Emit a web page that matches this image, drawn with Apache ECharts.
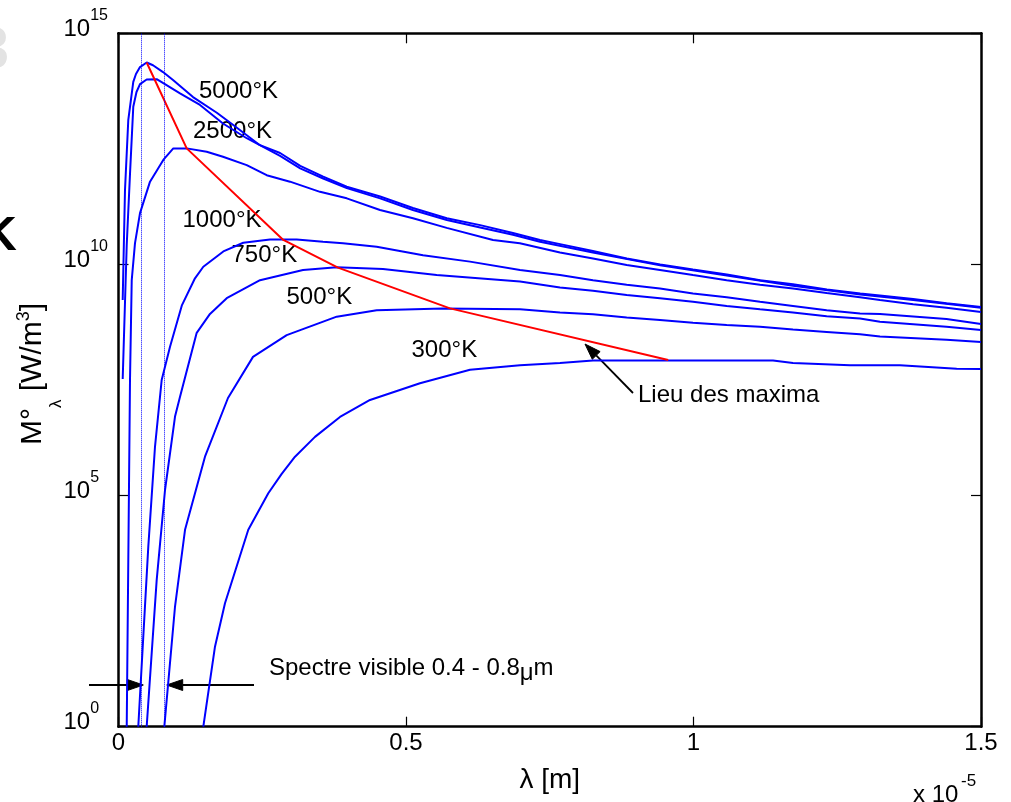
<!DOCTYPE html>
<html>
<head>
<meta charset="utf-8">
<script src="https://cdn.jsdelivr.net/npm/echarts@6/dist/echarts.min.js"></script>
<style>
  html, body { margin: 0; padding: 0; background: #fff; }
  #main { width: 1011px; height: 802px; }
</style>
</head>
<body>
<div id="main"></div>
<script>
// lambda in units of 1e-5 m, M in W/m^3
const lam6000 = [0.0073, 0.0113, 0.017, 0.0257, 0.0304, 0.0374, 0.049, 0.06, 0.0774, 0.0948, 0.1296, 0.171, 0.199, 0.246, 0.281, 0.316, 0.356, 0.397, 0.455, 0.512, 0.571, 0.629, 0.686, 0.733, 0.768, 0.825, 0.884, 0.942, 0.999, 1.058, 1.116, 1.173, 1.232, 1.29, 1.324, 1.382, 1.44, 1.5];
const m6000 = [1.70e9, 4.07e11, 1.32e13, 8.91e13, 1.32e14, 1.86e14, 2.34e14, 2.04e14, 1.45e14, 9.77e13, 4.17e13, 1.91e13, 1.05e13, 3.80e12, 2.57e12, 1.35e12, 7.94e11, 4.79e11, 2.95e11, 1.66e11, 1.00e11, 7.08e10, 4.79e10, 3.39e10, 2.75e10, 1.95e10, 1.35e10, 1.00e10, 7.76e9, 6.03e9, 4.57e9, 3.72e9, 2.88e9, 2.34e9, 2.14e9, 1.78e9, 1.45e9, 1.20e9];

const lam5000 = [0.0073, 0.0143, 0.02, 0.0257, 0.0313, 0.0374, 0.049, 0.0664, 0.0779, 0.107, 0.1417, 0.1817, 0.223, 0.281, 0.316, 0.356, 0.397, 0.455, 0.512, 0.571, 0.629, 0.686, 0.733, 0.825, 0.942, 1.058, 1.173, 1.29, 1.382, 1.5];
const m5000 = [3.31e7, 2.63e10, 9.12e11, 2.57e13, 5.37e13, 7.94e13, 1.00e14, 1.02e14, 8.32e13, 5.01e13, 2.82e13, 1.12e13, 5.37e12, 2.24e12, 1.20e12, 7.24e11, 4.47e11, 2.69e11, 1.51e11, 9.12e10, 6.31e10, 4.37e10, 3.09e10, 1.82e10, 9.55e9, 5.75e9, 3.47e9, 2.24e9, 1.70e9, 1.15e9];

const lam2500 = [0.0143, 0.02, 0.023, 0.0287, 0.0374, 0.0548, 0.0779, 0.0953, 0.1186, 0.1534, 0.1817, 0.223, 0.2577, 0.2983, 0.3504, 0.397, 0.4548, 0.5122, 0.5708, 0.6513, 0.698, 0.7678, 0.8252, 0.8838, 0.9417, 0.9991, 1.0577, 1.1157, 1.173, 1.2316, 1.2896, 1.3243, 1.382, 1.44, 1.5];
const m2500 = [1, 3.16e7, 4.57e9, 2.88e10, 1.29e11, 6.17e11, 1.82e12, 3.24e12, 3.24e12, 2.75e12, 2.14e12, 1.41e12, 8.51e11, 6.17e11, 3.72e11, 2.69e11, 1.51e11, 1.00e11, 6.17e10, 3.39e10, 2.88e10, 1.82e10, 1.35e10, 9.77e9, 7.59e9, 5.89e9, 4.57e9, 3.63e9, 3.02e9, 2.40e9, 1.95e9, 1.70e9, 1.38e9, 1.15e9, 9.33e8];

const lam1000 = [0.0344, 0.0518, 0.0635, 0.0751, 0.0896, 0.1104, 0.133, 0.1475, 0.1823, 0.217, 0.2635, 0.3099, 0.3557, 0.3904, 0.449, 0.5296, 0.6113, 0.6983, 0.7678, 0.8252, 0.8838, 0.9417, 0.9991, 1.0577, 1.1157, 1.173, 1.2316, 1.2896, 1.3243, 1.44, 1.5];
const m1000 = [1, 7.76e3, 1.15e6, 3.16e7, 1.66e8, 1.32e9, 5.01e9, 8.91e9, 1.91e10, 2.95e10, 3.47e10, 3.47e10, 3.09e10, 2.88e10, 2.40e10, 1.58e10, 1.15e10, 7.59e9, 5.89e9, 4.57e9, 3.63e9, 3.02e9, 2.34e9, 1.95e9, 1.55e9, 1.26e9, 1.02e9, 8.71e8, 8.51e8, 6.61e8, 5.13e8];

const lam750 = [0.049, 0.0664, 0.0809, 0.0983, 0.107, 0.136, 0.1591, 0.1882, 0.2461, 0.3209, 0.3795, 0.46, 0.5534, 0.6983, 0.7678, 0.8252, 0.8838, 0.9417, 0.9991, 1.0577, 1.1157, 1.173, 1.2316, 1.2896, 1.3243, 1.44, 1.5];
const m750 = [1, 1.48e3, 1.32e5, 5.13e6, 1.38e7, 3.31e8, 8.51e8, 1.86e9, 4.57e9, 7.59e9, 8.71e9, 7.94e9, 5.89e9, 4.27e9, 3.16e9, 2.69e9, 2.19e9, 1.86e9, 1.55e9, 1.26e9, 1.07e9, 9.12e8, 7.59e8, 6.76e8, 5.75e8, 4.47e8, 3.80e8];

const lam500 = [0.0797, 0.0983, 0.1157, 0.1504, 0.1904, 0.2339, 0.2925, 0.3795, 0.449, 0.5643, 0.6983, 0.7678, 0.8252, 0.8838, 0.9417, 0.9991, 1.0577, 1.1157, 1.173, 1.2316, 1.2896, 1.3243, 1.44, 1.5];
const m500 = [1, 398, 1.82e4, 6.92e5, 1.29e7, 1.00e8, 2.95e8, 7.41e8, 1.02e9, 1.12e9, 1.07e9, 9.12e8, 8.32e8, 7.08e8, 6.31e8, 5.50e8, 4.90e8, 4.47e8, 3.89e8, 3.47e8, 3.09e8, 2.75e8, 2.34e8, 2.09e8];

const lam300 = [0.1475, 0.1678, 0.1852, 0.2257, 0.2605, 0.2838, 0.307, 0.3417, 0.3852, 0.4374, 0.5243, 0.6113, 0.6983, 0.7678, 0.8252, 0.9557, 1.1383, 1.173, 1.2722, 1.359, 1.4577, 1.5];
const m300 = [1, 53.7, 468, 1.82e4, 1.12e5, 2.95e5, 6.92e5, 1.86e6, 5.01e6, 1.17e7, 2.69e7, 5.25e7, 6.61e7, 7.41e7, 8.32e7, 8.32e7, 8.32e7, 7.41e7, 6.61e7, 6.61e7, 5.56e7, 5.50e7];

// lieu des maxima
const lamMax = [0.049, 0.1186, 0.2866, 0.3817, 0.5765, 0.956];
const mMax = [2.34e14, 3.24e12, 3.39e10, 8.51e9, 1.12e9, 8.57e7];

// limites du spectre visible (pointillés)
const visibleBounds = [0.036, 0.078];

const xTickLabels = ['0', '0.5', '1', '1.5'];
const yTickExp = ['0', '5', '10', '15'];

const FONT = "'Liberation Sans', Arial, Helvetica, sans-serif";
const BLUE = '#0000ff';

function pairs(xs, ys) {
    const n = Math.min(xs.length, ys.length);
    const out = [];
    for (let i = 0; i < n; i++) out.push([xs[i], ys[i]]);
    return out;
}

const curves = [
    {name: '6000°K', lam: lam6000, m: m6000},
    {name: '5000°K', lam: lam5000, m: m5000},
    {name: '2500°K', lam: lam2500, m: m2500},
    {name: '1000°K', lam: lam1000, m: m1000},
    {name: '750°K', lam: lam750, m: m750},
    {name: '500°K', lam: lam500, m: m500},
    {name: '300°K', lam: lam300, m: m300}
];

const series = curves.map(function (c) {
    return {
        type: 'line', name: c.name, data: pairs(c.lam, c.m),
        symbol: 'none', showSymbol: false, silent: true, z: 3,
        lineStyle: {color: BLUE, width: 2}, itemStyle: {color: BLUE}
    };
});
series[0].markLine = {
    silent: true, symbol: ['none', 'none'], animation: false,
    label: {show: false},
    lineStyle: {type: 'dotted', color: BLUE, width: 1},
    data: visibleBounds.map(v => ({xAxis: v}))
};
series.push({
    type: 'line', name: 'Lieu des maxima', data: pairs(lamMax, mMax),
    symbol: 'none', showSymbol: false, silent: true, z: 4,
    lineStyle: {color: '#ff0000', width: 2}, itemStyle: {color: '#ff0000'}
});

const axisLine = {show: true, onZero: false, lineStyle: {color: '#000', width: 2.5}};
const axisTick = {show: true, inside: true, length: 10, lineStyle: {color: '#000', width: 1.2}};

// arrow: line from tail to tip + filled head
function arrow(x1, y1, x2, y2) {
    const dx = x2 - x1, dy = y2 - y1, len = Math.hypot(dx, dy);
    const ux = dx / len, uy = dy / len, hl = 16, hw = 5.5;
    const bx = x2 - ux * hl, by = y2 - uy * hl;
    return [
        {type: 'line', shape: {x1: x1, y1: y1, x2: bx, y2: by}, style: {stroke: '#000', lineWidth: 1.8}},
        {type: 'polygon', shape: {points: [[x2, y2], [bx - uy * hw, by + ux * hw], [bx + uy * hw, by - ux * hw]]},
            style: {fill: '#000', stroke: '#000', lineWidth: 1}}
    ];
}

function label(text, x, y, size) {
    return {type: 'text', x: x, y: y, style: {text: text, fill: '#000', font: (size || 24) + 'px ' + FONT,
        align: 'left', verticalAlign: 'middle'}};
}

const graphics = [
    label('5000°K', 199, 91),
    label('2500°K', 193, 131),
    label('1000°K', 182.5, 220),
    label('750°K', 231.5, 255),
    label('500°K', 286.5, 297),
    label('300°K', 411.5, 350),
    label('Lieu des maxima', 638, 395.7),
    {type: 'text', x: 269, y: 668.4, style: {
        text: '{a|Spectre visible 0.4 - 0.8}{u|μ}{a|m}', align: 'left', verticalAlign: 'middle',
        rich: {
            a: {fontSize: 24, fontFamily: FONT, fill: '#000', color: '#000'},
            u: {fontSize: 24, fontFamily: FONT, fill: '#000', color: '#000', padding: [10, 0, 0, 0]}
        }
    }},
    // axis title, rotated
    {type: 'text', x: 33, y: 374, rotation: Math.PI / 2, style: {
        text: '{b|M°}{l|λ}{b| [W/m}{s|3}{b|]}', align: 'center', verticalAlign: 'middle',
        rich: {
            b: {fontSize: 30, fontFamily: FONT, color: '#000'},
            l: {fontSize: 17, fontFamily: FONT, color: '#000', padding: [46, 0, 0, 0]},
            s: {fontSize: 18, fontFamily: FONT, color: '#000', padding: [0, 0, 18, 0]}
        }
    }},
    label('x 10', 913, 795.7),
    label('-5', 961, 781.3, 17),
    // bits of neighbouring figure cropped at the left edge
    {type: 'text', x: 17, y: 236, style: {text: 'K', fill: '#000', font: 'bold 49px ' + FONT, align: 'right', verticalAlign: 'middle'}},
    {type: 'text', x: 9, y: 51.7, style: {text: '3', fill: '#e3e3e3', font: 'bold 60px ' + FONT, align: 'right', verticalAlign: 'middle'}}
].concat(arrow(89, 685, 143.3, 685), arrow(254, 685, 166.7, 685), arrow(633, 393, 585, 344));

const myChart = echarts.init(document.getElementById('main'));
const option = {
    animation: false,
    backgroundColor: '#fff',
    textStyle: {fontFamily: FONT},
    grid: {left: 118.5, right: 30, top: 33.3, bottom: 75.3, containLabel: false},
    xAxis: [
        {
            type: 'value', min: 0, max: 1.5, interval: 0.5, position: 'bottom',
            axisLine: axisLine, axisTick: axisTick, splitLine: {show: false},
            axisLabel: {margin: 5, fontSize: 24, color: '#000', fontFamily: FONT,
                formatter: (v, i) => xTickLabels[i] !== undefined ? xTickLabels[i] : String(v)},
            name: 'λ [m]', nameLocation: 'middle', nameGap: 40,
            nameTextStyle: {fontSize: 28, color: '#000', fontFamily: FONT}
        },
        {
            type: 'value', min: 0, max: 1.5, interval: 0.5, position: 'top',
            axisLine: axisLine, axisTick: axisTick, splitLine: {show: false}, axisLabel: {show: false}
        }
    ],
    yAxis: [
        {
            type: 'log', logBase: 100000, min: 1, max: 1e15, position: 'left',
            axisLine: axisLine, axisTick: axisTick, splitLine: {show: false}, minorTick: {show: false},
            axisLabel: {
                margin: 55, align: 'left',
                formatter: (v, i) => '{b|10}{s|' + yTickExp[i] + '}',
                rich: {
                    b: {fontSize: 24, fontFamily: FONT, color: '#000', padding: [0, 0, 8, 0]},
                    s: {fontSize: 16, fontFamily: FONT, color: '#000', padding: [0, 0, 36, 0]}
                }
            }
        },
        {
            type: 'log', logBase: 100000, min: 1, max: 1e15, position: 'right',
            axisLine: axisLine, axisTick: axisTick, splitLine: {show: false}, axisLabel: {show: false}
        }
    ],
    series: series,
    graphic: graphics
};
myChart.setOption(option);
</script>
</body>
</html>
